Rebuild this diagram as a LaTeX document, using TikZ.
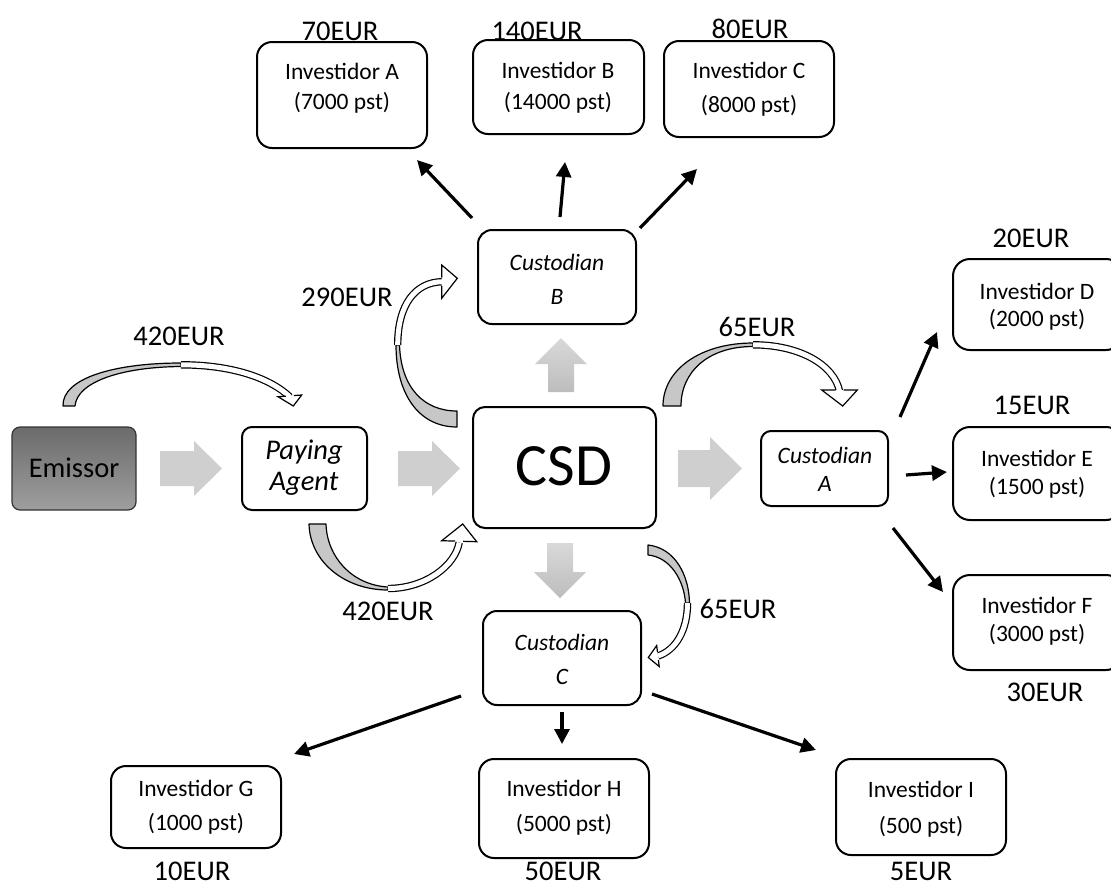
\documentclass[tikz,border=0pt]{standalone}
\usepackage{fontspec}
\setmainfont{Carlito}
\usetikzlibrary{arrows.meta,calc}

% rounded box given by its corners: [options]{name}{x1}{y1}{x2}{y2}
\newcommand\mkbox[6][]{%
  \node[box,#1,minimum width={#5-#3},minimum height={#6-#4}] (#2) at ({(#3+#5)/2},{(#4+#6)/2}) {};}

% open arrow head of a curved block arrow: barb, tip, barb
\newcommand\chead[3]{%
  \path[chead] ($(#1)!0.5!(#3)!4pt!(#1)$) -- (#1) -- (#2) -- (#3) -- ($(#1)!0.5!(#3)!4pt!(#3)$);}

\begin{document}
\begin{tikzpicture}[x=1pt,y=-1pt,
  box/.style={draw,line width=2pt,rounded corners=14pt,inner sep=0pt,fill=white},
  lbl/.style={font=\fontsize{28.5}{34}\selectfont,inner sep=0pt},
  btxt/.style={font=\fontsize{23.5}{#1}\selectfont,align=center,inner sep=0pt},
  ctxt/.style={font=\fontsize{23.5}{#1}\selectfont\itshape,align=center,inner sep=0pt},
  link/.style={line width=3.2pt,-{Triangle[length=15pt,width=15pt]}},
  garrow/.style={fill=black!19},
  gvarrow/.style={top color=black!15,bottom color=black!26},
  crescent/.style={fill=black!22,draw,line width=1.2pt,line join=round},
  band/.style={draw=black,line width=7.4pt,postaction={draw=white,line width=5pt}},
  chead/.style={draw,fill=white,line width=1.2pt,line join=miter}]

\useasboundingbox (0,0) rectangle (1111,887);

% ---------- boxes ----------
\mkbox[rounded corners=8pt,line width=1.2pt,draw=black!80,top color=black!58,bottom color=black!38]{emissor}{12}{427}{136}{510}
\mkbox[rounded corners=10pt]{paying}{242}{427}{367}{510}
\mkbox[rounded corners=12pt]{csd}{473}{407}{656}{528}
\mkbox{custB}{478}{230}{636}{324}
\mkbox[rounded corners=10pt]{custA}{761}{431}{888}{506}
\mkbox{custC}{483}{611}{641}{705}

\mkbox[rounded corners=15pt]{invA}{257}{42}{427}{148}
\mkbox[rounded corners=15pt]{invB}{473}{40}{644}{134}
\mkbox[rounded corners=15pt]{invC}{664}{41}{834}{137}
\mkbox[rounded corners=17pt]{invD}{953}{259}{1123}{350}
\mkbox[rounded corners=17pt]{invE}{953}{427}{1123}{520}
\mkbox[rounded corners=17pt]{invF}{953}{575}{1123}{670}
\mkbox[rounded corners=15pt]{invG}{111}{766}{281}{848}
\mkbox[rounded corners=15pt]{invH}{479}{759}{649}{858}
\mkbox[rounded corners=15pt]{invI}{836}{759}{1006}{855}

% ---------- box texts ----------
\node[lbl] (tEm) at (74,468) {Emissor};
\node[lbl,font=\fontsize{28.5}{31}\selectfont\itshape,align=center] (tPa) at (304,468) {Paying\\Agent};
\node[inner sep=0pt,font=\fontsize{60}{70}\selectfont] (tCsd) at (564,466) {CSD};
\node[ctxt=34] (tCB) at (557,279) {Custodian\\B};
\node[ctxt=28] (tCA) at (825,469) {Custodian\\A};
\node[ctxt=34] (tCC) at (562,659) {Custodian\\C};

\node[btxt=30] (tA) at (342,88) {Investidor A\\(7000 pst)};
\node[btxt=31] (tB) at (558,88) {Investidor B\\(14000 pst)};
\node[btxt=34] (tC) at (749,89) {Investidor C\\(8000 pst)};
\node[btxt=27] (tD) at (1037,306.5) {Investidor D\\(2000 pst)};
\node[btxt=28] (tE) at (1037,474) {Investidor E\\(1500 pst)};
\node[btxt=28] (tF) at (1037,621) {Investidor F\\(3000 pst)};
\node[btxt=34] (tG) at (196,807) {Investidor G\\(1000 pst)};
\node[btxt=35] (tH) at (564,807.5) {Investidor H\\(5000 pst)};
\node[btxt=36] (tI) at (921,809) {Investidor I\\(500 pst)};

% ---------- amounts ----------
\node[lbl] (a70) at (340,31) {70EUR};
\node[lbl] (a140) at (537,31) {140EUR};
\node[lbl] (a80) at (750,29) {80EUR};
\node[lbl] (a20) at (1031,238) {20EUR};
\node[lbl] (a15) at (1032,405) {15EUR};
\node[lbl] (a30) at (1045,692) {30EUR};
\node[lbl] (a10) at (192,871) {10EUR};
\node[lbl] (a50) at (563,871) {50EUR};
\node[lbl] (a5) at (921,871) {5EUR};
\node[lbl] (a420t) at (179,336) {420EUR};
\node[lbl] (a420b) at (388,611) {420EUR};
\node[lbl] (a290) at (347,297) {290EUR};
\node[lbl] (a65a) at (757,327) {65EUR};
\node[lbl] (a65c) at (738,609) {65EUR};

% ---------- grey block arrows along the chain ----------
\path[garrow] (160,451) -- (194,451) -- (194,441) -- (222,468.5) -- (194,496) -- (194,486) -- (160,486) -- cycle;
\path[garrow] (398,451) -- (432,451) -- (432,441) -- (460,468.5) -- (432,496) -- (432,486) -- (398,486) -- cycle;
\path[garrow] (678,450) -- (710,450) -- (710,437) -- (742,468.5) -- (710,500) -- (710,487) -- (678,487) -- cycle;
\path[gvarrow] (548,392) -- (548,364) -- (535,364) -- (561,338) -- (587,364) -- (574,364) -- (574,392) -- cycle;
\path[gvarrow] (547,543) -- (547,572) -- (534,572) -- (560,598) -- (586,572) -- (573,572) -- (573,543) -- cycle;

% ---------- curved block arrows (payments) ----------
% Emissor -> Paying Agent
\path[crescent] (63,406) .. controls (62,378) and (115,363) .. (181,363) -- (181,366.5) .. controls (121,367) and (77,382) .. (75,406) -- cycle;
\path[band] (181,364.8) .. controls (232,364.8) and (270,378) .. (290,397);
\chead{278,396.7}{293.3,406}{301.7,395}
% Paying Agent -> CSD
\path[crescent] (309,524) .. controls (310,562) and (345,590) .. (388,590) -- (388,587) .. controls (352,585) and (327,557) .. (326,524) -- cycle;
\path[band] (388,588.5) .. controls (425,588.5) and (455,566) .. (459.2,542.5);
\chead{441.7,540.7}{462.7,524}{476.7,541.7}
% CSD -> Custodian B
\path[crescent] (457,427) .. controls (418,427) and (396,393) .. (396,345) -- (399.5,345) .. controls (401,388) and (424,411) .. (457,411) -- cycle;
\path[band] (397.7,345) .. controls (397.7,305) and (415,282) .. (442.5,281.7);
\chead{441.7,265}{457.3,278.3}{441.7,298.3}
% CSD -> Custodian A
\path[crescent] (663,406) .. controls (663,370) and (700,343) .. (753,343) -- (753,346.5) .. controls (708,346.5) and (681,372) .. (681,406) -- cycle;
\path[band] (753,344.8) .. controls (800,344.8) and (834,365) .. (839.5,391);
\chead{821.7,390}{842.7,406}{857.3,390}
% CSD -> Custodian C
\path[crescent] (648,545) .. controls (675,548) and (689,575) .. (689.5,603) -- (685.5,603) .. controls (684,580) and (670,557) .. (648,555) -- cycle;
\path[band] (687.5,603) .. controls (687.5,630) and (676,650) .. (658,656);
\chead{656.7,645.5}{648.3,657.5}{659.2,666.5}

% ---------- distribution to investors ----------
\coordinate (bA1) at (472,218); \coordinate (bA2) at (417,160);
\coordinate (bB1) at (560,217); \coordinate (bB2) at (565,162);
\coordinate (bC1) at (640,228); \coordinate (bC2) at (697,169);
\coordinate (aD1) at (900,417); \coordinate (aD2) at (937,332);
\coordinate (aE1) at (906,475); \coordinate (aE2) at (947,472);
\coordinate (aF1) at (893,528); \coordinate (aF2) at (943,592);
\coordinate (cG1) at (461,696); \coordinate (cG2) at (294,754);
\coordinate (cH1) at (562,712); \coordinate (cH2) at (562,744);
\coordinate (cI1) at (652,694); \coordinate (cI2) at (816,750);
\foreach \s/\t in {bA1/bA2,bB1/bB2,bC1/bC2,aD1/aD2,aE1/aE2,aF1/aF2,cG1/cG2,cH1/cH2,cI1/cI2}
  \draw[link] (\s) -- (\t);

\end{tikzpicture}
\end{document}
